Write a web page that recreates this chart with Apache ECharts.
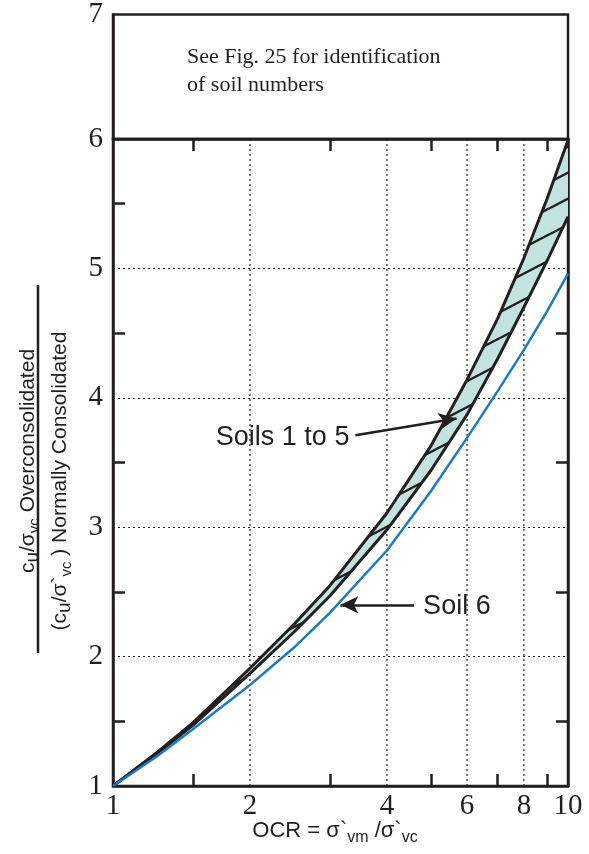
<!DOCTYPE html>
<html><head><meta charset="utf-8">
<script src="https://cdn.jsdelivr.net/npm/echarts@6/dist/echarts.min.js"></script>
<style>html,body{margin:0;padding:0;background:#fff}#c{width:589px;height:854px}</style>
</head><body><div id="c"></div>
<script>
// ---- data ----
const ocrValues      = [1, 1.25, 1.5, 2, 2.5, 3, 4, 5, 6, 7, 8, 9, 10];
const soils1to5Upper = [1, 1.26, 1.49, 1.91, 2.25, 2.55, 3.11, 3.63, 4.14, 4.61, 5.08, 5.54, 5.99];
const soils1to5Lower = [1, 1.25, 1.47, 1.87, 2.19, 2.47, 2.98, 3.44, 3.87, 4.30, 4.70, 5.06, 5.40];
const soil6          = [1, 1.23, 1.44, 1.78, 2.07, 2.34, 2.82, 3.28, 3.69, 4.05, 4.37, 4.67, 4.96];
const xLabelValues = [1, 2, 4, 6, 8, 10];
const xTickValues  = [1.5, 3, 5, 7, 9];
const xGridValues  = [2, 4, 6, 8];
const annotations = [
  {text: 'Soils 1 to 5', from: [3.41, 3.71], to: [5.69, 3.84], side: 'left'},
  {text: 'Soil 6',       from: [4.59, 2.40], to: [3.16, 2.40], side: 'right'}
];

const black = '#231f20';
const blue = '#1c7bc4';
const serif = "'Liberation Serif','Times New Roman',serif";
const sans = "'Liberation Sans',Arial,Helvetica,sans-serif";
const pairs = arr => ocrValues.map((x, i) => [x, arr[i]]);

function hatchPattern() {
  const W = 50, H = 26;
  const c = document.createElement('canvas');
  c.width = W; c.height = H;
  const g = c.getContext('2d');
  g.fillStyle = '#c3e3e0'; g.fillRect(0, 0, W, H);
  g.strokeStyle = black; g.lineWidth = 2.4;
  for (let dx = -W; dx <= W; dx += W) for (let dy = -H; dy <= H; dy += H) {
    g.beginPath(); g.moveTo(dx, H + dy); g.lineTo(W + dx, dy); g.stroke();
  }
  return c;
}
const pattern = {image: hatchPattern(), repeat: 'repeat'};

const chart = echarts.init(document.getElementById('c'), null, {renderer: 'canvas'});
const axisLineStyle = {color: black, width: 2.5};
const tickLine = {color: black, width: 2.5};
const gridDash = {color: black, width: 1.2, type: [2, 3]};

const option = {
  animation: false,
  backgroundColor: '#fff',
  grid: [
    {left: 113, right: 21, top: 9, height: 130, show: true, borderColor: black, borderWidth: 2.5, containLabel: false},
    {left: 113, right: 21, top: 139, bottom: 68, show: true, borderColor: black, borderWidth: 2.5, containLabel: false}
  ],
  xAxis: [
    {gridIndex: 0, type: 'value', min: 0, max: 1, show: false},
    {gridIndex: 1, type: 'log', logBase: 10, min: 1, max: 10, position: 'bottom',
      axisLine: {show: true, lineStyle: axisLineStyle},
      axisTick: {show: true, inside: true, length: 12, customValues: xTickValues, lineStyle: tickLine},
      axisLabel: {show: true, customValues: xLabelValues, fontFamily: serif, fontSize: 29, color: black, margin: 6,
        formatter: v => String(Math.round(v))},
      splitLine: {show: false}, minorTick: {show: false}, minorSplitLine: {show: false}},
    {gridIndex: 1, type: 'log', logBase: 10, min: 1, max: 10, position: 'top',
      axisLine: {show: true, lineStyle: axisLineStyle},
      axisTick: {show: true, inside: true, length: 12, customValues: xTickValues, lineStyle: tickLine},
      axisLabel: {show: false}, splitLine: {show: false}}
  ],
  yAxis: [
    {gridIndex: 0, type: 'value', min: 6, max: 7, interval: 1,
      axisLine: {show: true, lineStyle: axisLineStyle}, axisTick: {show: false}, splitLine: {show: false},
      axisLabel: {fontFamily: serif, fontSize: 29, color: black, margin: 10, formatter: v => (v === 7 ? '7' : '')}},
    {gridIndex: 1, type: 'value', min: 1, max: 6, interval: 1,
      axisLine: {show: true, lineStyle: axisLineStyle}, axisTick: {show: false, inside: true},
      minorTick: {show: true, splitNumber: 2, length: 12, lineStyle: tickLine},
      splitLine: {show: true, lineStyle: gridDash},
      axisLabel: {fontFamily: serif, fontSize: 29, color: black, margin: 10}},
    {gridIndex: 1, type: 'value', min: 1, max: 6, interval: 1, position: 'right',
      axisLine: {show: true, lineStyle: axisLineStyle}, axisTick: {show: false, inside: true},
      minorTick: {show: true, splitNumber: 2, length: 12, lineStyle: tickLine},
      splitLine: {show: false}, axisLabel: {show: false}}
  ],
  series: [
    ...xGridValues.map(v => ({type: 'line', xAxisIndex: 1, yAxisIndex: 1, data: [[v, 1], [v, 6]],
      symbol: 'none', silent: true, z: 1, lineStyle: gridDash})),
    {type: 'custom', name: 'Soils 1 to 5 band', xAxisIndex: 1, yAxisIndex: 1, data: [[1, 1]], z: 2, silent: true, clip: true,
      renderItem: function (params, api) {
        const pts = [];
        for (let i = 0; i < ocrValues.length; i++) pts.push(api.coord([ocrValues[i], soils1to5Upper[i]]));
        for (let i = ocrValues.length - 1; i >= 0; i--) pts.push(api.coord([ocrValues[i], soils1to5Lower[i]]));
        return {type: 'polygon', shape: {points: pts}, style: {fill: pattern, stroke: null}};
      }},
    {type: 'line', name: 'Soils 1 to 5 upper', xAxisIndex: 1, yAxisIndex: 1, data: pairs(soils1to5Upper),
      symbol: 'none', z: 3, lineStyle: {color: black, width: 3, join: 'round'}},
    {type: 'line', name: 'Soils 1 to 5 lower', xAxisIndex: 1, yAxisIndex: 1, data: pairs(soils1to5Lower),
      symbol: 'none', z: 3, lineStyle: {color: black, width: 3, join: 'round'}},
    {type: 'line', name: 'Soil 6', xAxisIndex: 1, yAxisIndex: 1, data: pairs(soil6),
      symbol: 'none', z: 3, lineStyle: {color: blue, width: 2.5, join: 'round'},
      markLine: {silent: true, symbol: ['none', 'arrow'], symbolSize: [13, 18], label: {show: false},
        lineStyle: {color: black, width: 2.5, type: 'solid'}, emphasis: {disabled: true},
        data: annotations.map(a => [{coord: a.from}, {coord: a.to}])}}
  ]
};
chart.setOption(option);

const graphics = [];
annotations.forEach(a => {
  const p = chart.convertToPixel({xAxisIndex: 1, yAxisIndex: 1}, a.from);
  graphics.push({type: 'text', x: a.side === 'left' ? p[0] - 6 : p[0] + 9, y: p[1] + 2,
    style: {text: a.text, fontFamily: sans, fontSize: 27, fill: black,
      align: a.side === 'left' ? 'right' : 'left', verticalAlign: 'middle'}});
});
graphics.push({type: 'text', x: 187, y: 43, style: {text: 'See Fig. 25 for identification\nof soil numbers',
  fontFamily: serif, fontSize: 22, lineHeight: 28, fill: black, align: 'left', verticalAlign: 'top'}});

const m = {fontFamily: sans, fontSize: 21, lineHeight: 28, verticalAlign: 'middle', fill: black};
const s = {fontFamily: sans, fontSize: 15, lineHeight: 15, verticalAlign: 'bottom', fill: black};
const u = {fontFamily: sans, fontSize: 19, lineHeight: 22, verticalAlign: 'bottom', fill: black};
graphics.push({type: 'text', x: 28, y: 461, rotation: Math.PI / 2,
  style: {text: '{m|c}{u|u}{m|/σ}{s|vc}{m| Overconsolidated}', rich: {m, s, u}, align: 'center', verticalAlign: 'middle'}});
graphics.push({type: 'line', shape: {x1: 38, y1: 285, x2: 38, y2: 653}, style: {stroke: black, lineWidth: 2.5}});
graphics.push({type: 'text', x: 60, y: 481, rotation: Math.PI / 2,
  style: {text: '{m|(c}{u|u}{m|/σ`}{s|vc}{m| ) Normally Consolidated}', rich: {m, s, u}, align: 'center', verticalAlign: 'middle'}});
const mx = {fontFamily: sans, fontSize: 22, lineHeight: 30, verticalAlign: 'middle', fill: black};
const sx = {fontFamily: sans, fontSize: 16, lineHeight: 16, verticalAlign: 'bottom', fill: black};
graphics.push({type: 'text', x: 335, y: 831,
  style: {text: '{m|OCR = σ`}{s|vm}{m| /σ`}{s|vc}', rich: {m: mx, s: sx}, align: 'center', verticalAlign: 'middle'}});
chart.setOption({graphic: graphics});
</script></body></html>
